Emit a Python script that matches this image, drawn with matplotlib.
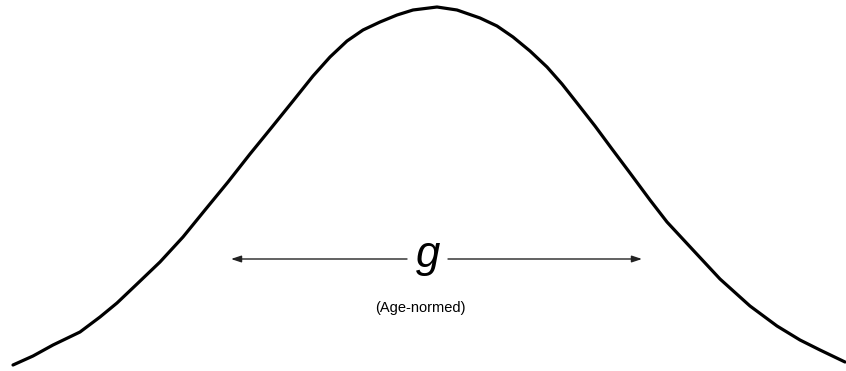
import matplotlib
matplotlib.use("Agg")
import matplotlib.pyplot as plt

# Bell curve points (x position, distance from top edge)
curve_x = [13, 33, 53, 80, 100, 117, 137, 160, 183, 205, 228, 250, 272, 293,
           313, 330, 347, 363, 380, 397, 413, 437, 457, 480, 497, 513, 530, 547,
           562, 577, 595, 612, 630, 650, 667, 693, 720, 750, 777, 800, 820, 845]
curve_y = [365, 356, 345, 332, 317, 303, 284, 262, 237, 210, 182, 154, 127, 101,
           76, 57, 41, 30, 22, 15, 10, 7, 10, 18, 26, 37, 51, 67,
           84, 103, 126, 149, 173, 200, 222, 250, 279, 306, 326, 340, 350, 362]
H = 371
heights = [H - v for v in curve_y]

label_main = "g"
label_sub = "(Age-normed)"
arrow_left = (407, 231)    # from, to
arrow_right = (448, 642)
arrow_level = 259
label_x = 428

fig = plt.figure(figsize=(8.46, 3.71), dpi=100)
ax = fig.add_axes([0, 0, 1, 1])
ax.set_xlim(0, 846)
ax.set_ylim(0, H)
ax.axis("off")

ax.plot(curve_x, heights, color="black", lw=2.3, solid_capstyle="round",
        solid_joinstyle="round", antialiased=True)

y_arr = H - arrow_level
for a, b in (arrow_left, arrow_right):
    ax.annotate("", xy=(b, y_arr), xytext=(a, y_arr),
                arrowprops=dict(arrowstyle="-|>,head_length=0.6,head_width=0.2",
                                color="#222222", lw=1.0, shrinkA=0, shrinkB=0))

ax.text(label_x, H - 256, label_main, fontsize=31.5, style="italic",
        family="Liberation Sans", ha="center", va="center", color="black")
ax.text(420, H - 308, label_sub, fontsize=10.5, family="Liberation Sans",
        ha="center", va="center", color="black")

fig.savefig("out.png", dpi=100)
